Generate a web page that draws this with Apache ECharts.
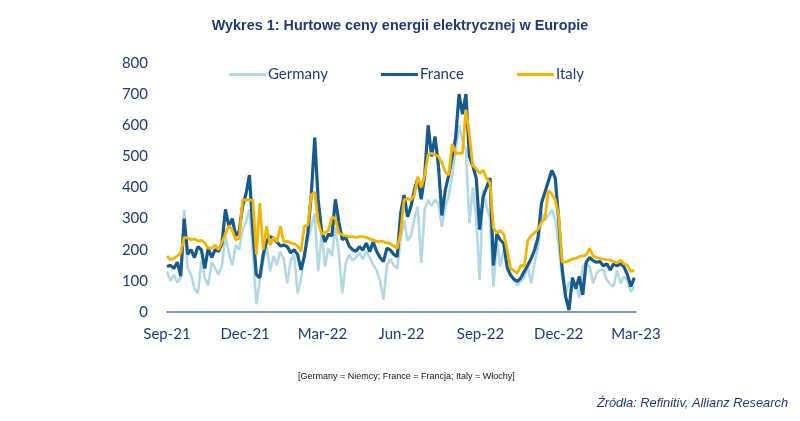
<!DOCTYPE html>
<html>
<head>
<meta charset="utf-8">
<script src="https://cdn.jsdelivr.net/npm/echarts@6/dist/echarts.min.js"></script>
<style>html,body{margin:0;padding:0;background:#fff}#c{width:800px;height:421px}</style>
</head>
<body>
<div id="c"></div>
<script>
// Series names
const seriesNames = ['Germany', 'France', 'Italy'];
// First observation date and spacing (days) of the observations
const startDate = [2021, 8, 1];
const stepDays = 4;
// Tick labels on the x axis and the month starts they mark
const tickLabels = ['Sep-21', 'Dec-21', 'Mar-22', 'Jun-22', 'Sep-22', 'Dec-22', 'Mar-23'];
const tickMonths = [[2021, 8], [2021, 11], [2022, 2], [2022, 5], [2022, 8], [2022, 11], [2023, 2]];
// Wholesale electricity prices (EUR/MWh)
const germany = [130,100,120,95,110,328,140,120,75,60,165,110,85,160,140,120,150,245,190,150,215,200,265,290,330,190,25,
  100,165,210,130,180,150,195,170,92,165,185,60,105,185,230,275,317,130,250,146,205,180,272,190,60,155,185,165,175,
  190,170,195,175,150,135,100,40,150,170,150,140,230,296,230,245,300,339,157,330,360,340,360,349,274,340,371,440,520,600,550,520,285,400,300,103,392,340,300,81,231,146,199,135,120,105,85,100,110,146,92,160,210,317,296,310,328,296,210,110,60,95,81,92,45,146,157,146,92,124,135,135,103,90,81,135,92,114,100,65,81];
const france = [146,150,140,160,115,300,185,200,175,210,200,140,205,175,200,195,220,330,275,300,245,260,340,380,440,260,120,
  110,185,228,242,237,225,212,215,210,190,200,185,135,180,255,380,560,360,260,225,250,245,362,290,232,240,212,200,195,
  210,199,221,194,225,195,175,162,205,199,185,178,317,376,306,339,392,430,362,440,600,500,564,470,310,392,440,500,560,700,635,700,500,470,430,265,370,400,430,150,250,232,220,145,118,105,98,110,130,150,172,200,240,350,385,420,455,430,296,140,50,6,110,75,114,55,160,175,165,160,162,148,155,135,155,148,155,145,120,82,110];
const italy = [180,168,172,180,190,240,238,232,235,228,230,222,205,205,215,200,225,250,278,262,232,236,360,360,360,358,185,
  350,200,275,215,240,225,275,225,228,222,220,212,195,275,280,378,385,290,250,255,262,305,300,254,248,245,242,242,240,
  242,242,240,235,232,226,228,226,222,220,212,205,255,360,365,360,375,435,400,440,505,510,505,500,480,450,440,540,510,510,510,650,570,470,460,446,455,430,414,270,255,262,250,200,140,132,125,150,146,230,245,255,265,290,300,390,380,360,310,160,160,165,170,172,178,180,183,205,180,175,172,170,168,167,162,158,167,155,150,130,135];
// Y axis range
const yMin = 0, yMax = 800, yStep = 100;

const dates = germany.map((_, i) => new Date(startDate[0], startDate[1], startDate[2] + stepDays * i).getTime());
const tickTimes = tickMonths.map(m => new Date(m[0], m[1], 1).getTime());
const pair = arr => arr.map((v, i) => [dates[i], v]);

const navy = '#1f3c7a';
const chart = echarts.init(document.getElementById('c'), null, {renderer: 'canvas'});
chart.setOption({
  animation: false,
  backgroundColor: '#ffffff',
  title: [
    {text: 'Wykres 1: Hurtowe ceny energii elektrycznej w Europie', left: 'center', top: 14,
     textStyle: {fontFamily: 'Liberation Sans, Arial', fontWeight: 'bold', fontSize: 14.4, color: navy}},
    {text: '[Germany = Niemcy; France = Francja; Italy = Włochy]', left: 293, top: 367,
     textStyle: {fontFamily: 'Liberation Sans, Arial', fontWeight: 'normal', fontSize: 9, color: '#111'}},
    {text: 'Źródła: Refinitiv, Allianz Research', right: 7, top: 392,
     textStyle: {fontFamily: 'Liberation Sans, Arial', fontStyle: 'italic', fontWeight: 'normal', fontSize: 12.8, color: navy}}
  ],
  legend: {
    data: seriesNames, left: 224, top: 62, icon: 'rect', itemWidth: 37, itemHeight: 3, itemGap: 53,
    textStyle: {fontFamily: 'Lato, Carlito, sans-serif', fontSize: 15, color: navy, padding: [0, 0, 0, -3]}
  },
  grid: {left: 167, right: 164, top: 63, bottom: 109, containLabel: false},
  xAxis: {
    type: 'value', min: tickTimes[0], max: tickTimes[tickTimes.length - 1],
    axisLine: {lineStyle: {color: '#5a76a0', width: 1.5}},
    axisTick: {show: false},
    splitLine: {show: false},
    axisLabel: {
      customValues: tickTimes,
      margin: 15, fontFamily: 'Lato, Carlito, sans-serif', fontSize: 15, color: navy,
      formatter: v => {
        let best = 0;
        tickTimes.forEach((t, k) => { if (Math.abs(t - v) < Math.abs(tickTimes[best] - v)) best = k; });
        return tickLabels[best];
      }
    }
  },
  yAxis: {
    type: 'value', min: yMin, max: yMax, interval: yStep,
    axisLine: {show: false}, axisTick: {show: false}, splitLine: {show: false},
    axisLabel: {margin: 19, fontFamily: 'Lato, Carlito, sans-serif', fontSize: 15, color: navy}
  },
  series: [
    {name: seriesNames[0], type: 'line', data: pair(germany), showSymbol: false, symbol: 'none',
     lineStyle: {color: '#b2d8e4', width: 2.6}, itemStyle: {color: '#b2d8e4'}, z: 1},
    {name: seriesNames[1], type: 'line', data: pair(france), showSymbol: false, symbol: 'none',
     lineStyle: {color: '#165b8c', width: 3.2}, itemStyle: {color: '#165b8c'}, z: 2},
    {name: seriesNames[2], type: 'line', data: pair(italy), showSymbol: false, symbol: 'none',
     lineStyle: {color: '#f4b400', width: 2.8}, itemStyle: {color: '#f4b400'}, z: 3}
  ]
});
</script>
</body>
</html>
